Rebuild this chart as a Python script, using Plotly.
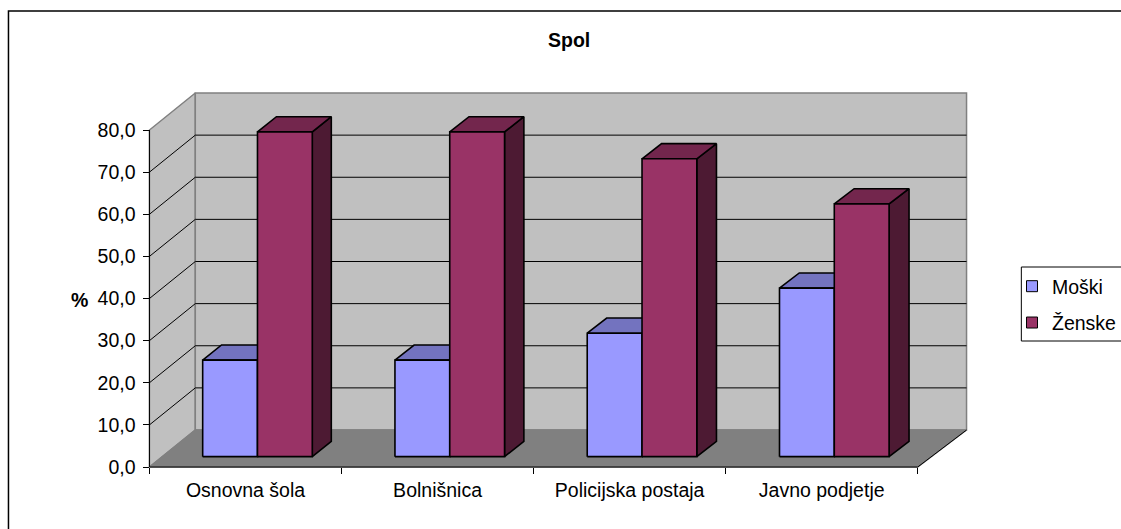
import plotly.graph_objects as go

# ---------------- data ----------------
categories = ["Osnovna šola", "Bolnišnica", "Policijska postaja", "Javno podjetje"]
series_names = ["Moški", "Ženske"]
moski = [22.9, 22.9, 29.3, 40.0]
zenske = [77.1, 77.1, 70.7, 60.0]
y_ticks = [0, 10, 20, 30, 40, 50, 60, 70, 80]
y_tick_labels = ["0,0", "10,0", "20,0", "30,0", "40,0", "50,0", "60,0", "70,0", "80,0"]
title_text = "Spol"
y_title = "%"

# ---------------- geometry / style ----------------
W, H = 1121, 529
X0_PX, CAT_PX = 150.0, 192.75      # front axis origin and category width (px)
Y0_PX, UNIT_PX = 467.0, 4.2125     # front baseline and px per value unit
DX_L, DX_R, DY = 46.0, 49.0, 37.0  # depth offset of the 3D box (px)
Y_MAX = 80
N = len(categories)
Z_FRONT, Z_BACK = 0.28, 0.69       # bar depth position
BAR_START, BAR_W = 0.21, 0.285     # inside a category

FONT = "Liberation Sans, Arial, sans-serif"
FS = 19.5

COL = {
    "Moški": dict(front="#9999FF", top="#7373BF", side="#4D4D80"),
    "Ženske": dict(front="#993366", top="#73264D", side="#4D1A33"),
}


def P(x, v, z):
    dxpx = DX_L + (DX_R - DX_L) * x / N
    return x + z * dxpx / CAT_PX, v + z * DY / UNIT_PX


def poly_trace(polys, fill, line_color, line_width):
    xs, ys = [], []
    for poly in polys:
        for (px, py) in poly:
            xs.append(px)
            ys.append(py)
        xs.append(poly[0][0])
        ys.append(poly[0][1])
        xs.append(None)
        ys.append(None)
    return go.Scatter(x=xs, y=ys, mode="lines", fill="toself", fillcolor=fill,
                      line=dict(color=line_color, width=line_width),
                      hoverinfo="skip", showlegend=False)


def line_trace(segs, color, width):
    xs, ys = [], []
    for seg in segs:
        for (px, py) in seg:
            xs.append(px)
            ys.append(py)
        xs.append(None)
        ys.append(None)
    return go.Scatter(x=xs, y=ys, mode="lines", line=dict(color=color, width=width),
                      hoverinfo="skip", showlegend=False)


fig = go.Figure()

# walls and floor
left_wall = [P(0, 0, 0), P(0, Y_MAX, 0), P(0, Y_MAX, 1), P(0, 0, 1)]
back_wall = [P(0, 0, 1), P(0, Y_MAX, 1), P(N, Y_MAX, 1), P(N, 0, 1)]
floor = [P(0, 0, 0), P(N, 0, 0), P(N, 0, 1), P(0, 0, 1)]
fig.add_trace(poly_trace([left_wall], "#C0C0C0", "#808080", 1.5))
fig.add_trace(poly_trace([back_wall], "#C0C0C0", "#808080", 1.5))
fig.add_trace(poly_trace([floor], "#808080", "#808080", 1.5))

# gridlines on side and back walls
grid = [[P(0, v, 0), P(0, v, 1), P(N, v, 1)] for v in y_ticks if 0 < v < Y_MAX]
fig.add_trace(line_trace(grid, "black", 1))

# axis lines (front)
fig.add_trace(line_trace([[P(0, 0, 0), P(0, Y_MAX, 0)]], "black", 1))
fig.add_trace(line_trace([[P(0, 0, 0), P(N, 0, 0), P(N, 0, 1)]], "black", 1))

# bars
for s, (name, vals) in enumerate(zip(series_names, [moski, zenske])):
    fronts, tops, sides = [], [], []
    for i, v in enumerate(vals):
        xl = i + BAR_START + s * BAR_W
        xr = xl + BAR_W
        fronts.append([P(xl, 0, Z_FRONT), P(xr, 0, Z_FRONT), P(xr, v, Z_FRONT), P(xl, v, Z_FRONT)])
        tops.append([P(xl, v, Z_FRONT), P(xr, v, Z_FRONT), P(xr, v, Z_BACK), P(xl, v, Z_BACK)])
        sides.append([P(xr, 0, Z_FRONT), P(xr, 0, Z_BACK), P(xr, v, Z_BACK), P(xr, v, Z_FRONT)])
    c = COL[name]
    fig.add_trace(poly_trace(sides, c["side"], "black", 1.6))
    fig.add_trace(poly_trace(tops, c["top"], "black", 1.6))
    fig.add_trace(poly_trace(fronts, c["front"], "black", 1.6))

# legend entries
for name in series_names:
    fig.add_trace(go.Scatter(x=[None], y=[None], mode="markers", name=name,
                             legendgroup=name,
                             marker=dict(symbol="square", size=11, color=COL[name]["front"],
                                         line=dict(color="black", width=1))))

xr_ = [-X0_PX / CAT_PX, (W - X0_PX) / CAT_PX]
yr_ = [-(H - Y0_PX) / UNIT_PX, Y0_PX / UNIT_PX]

# frame and legend box (open on the right/bottom as in the reference)
fx, fy = 8.5, 11.0
lx, lt, lb = 1025.0, 267.0, 341.0
frame_path = "M {a},{b} L {a},{c} L {d},{c}".format(a=fx / W, b=0, c=1 - fy / H, d=1.01)
legend_path = "M 1.01,{t} L {x},{t} L {x},{b} L 1.01,{b}".format(x=lx / W, t=1 - lt / H, b=1 - lb / H)

fig.update_layout(
    width=W, height=H,
    margin=dict(l=0, r=0, t=0, b=0, pad=0),
    paper_bgcolor="white", plot_bgcolor="white",
    font=dict(family=FONT, size=FS, color="black"),
    xaxis=dict(range=xr_, domain=[0, 1], anchor="free", position=(H - Y0_PX) / H,
               showgrid=False, zeroline=False, showline=False, fixedrange=True,
               tickmode="array", tickvals=[i + 0.5 for i in range(N)], ticktext=categories,
               ticks="", ticklabelstandoff=9,
               tickfont=dict(family=FONT, size=FS, color="black"),
               minor=dict(tickmode="array", tickvals=list(range(N + 1)), ticks="outside",
                          ticklen=6, tickwidth=1, tickcolor="black", showgrid=False)),
    yaxis=dict(range=yr_, domain=[0, 1], anchor="free", position=X0_PX / W,
               showgrid=False, zeroline=False, showline=False, fixedrange=True,
               tickmode="array", tickvals=y_ticks, ticktext=y_tick_labels,
               ticks="outside", ticklen=6, tickwidth=1, tickcolor="black",
               ticklabelstandoff=4,
               tickfont=dict(family=FONT, size=FS, color="black")),
    showlegend=True,
    legend=dict(x=1016 / W, y=1 - 267 / H, xanchor="left", yanchor="top",
                bgcolor="rgba(0,0,0,0)", borderwidth=0,
                font=dict(family=FONT, size=FS, color="black"),
                tracegroupgap=8, itemwidth=30),
    shapes=[
        dict(type="path", xref="paper", yref="paper", path=frame_path,
             line=dict(color="black", width=1.5), layer="below"),
        dict(type="path", xref="paper", yref="paper", path=legend_path,
             line=dict(color="black", width=1), fillcolor="white", layer="above"),
    ],
    annotations=[
        dict(text="<b>" + title_text + "</b>", xref="paper", yref="paper",
             x=571.5 / W, y=1 - 40 / H, xanchor="center", yanchor="middle",
             showarrow=False, font=dict(family=FONT, size=FS, color="black")),
        dict(text="<b>" + y_title + "</b>", xref="paper", yref="paper",
             x=79.5 / W, y=1 - 300 / H, xanchor="center", yanchor="middle",
             showarrow=False, font=dict(family=FONT, size=FS, color="black")),
    ],
)

fig.write_html("out.html",
               post_script="document.body.style.margin='0';document.body.style.overflow='hidden';")
